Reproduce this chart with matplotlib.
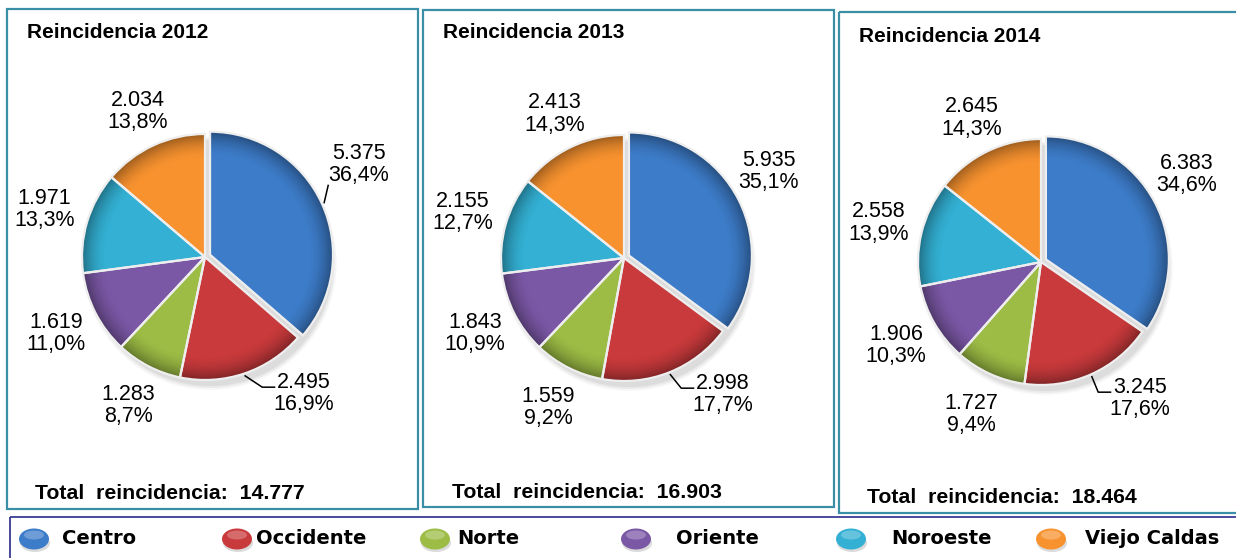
import numpy as np
import matplotlib
matplotlib.use("Agg")
import matplotlib.pyplot as plt
from matplotlib.patches import Rectangle, Ellipse, Wedge, Circle

# data
regions = ["Centro", "Occidente", "Norte", "Oriente", "Noroeste", "Viejo Caldas"]
years = [2012, 2013, 2014]
vals_2012 = [5375, 2495, 1283, 1619, 1971, 2034]
vals_2013 = [5935, 2998, 1559, 1843, 2155, 2413]
vals_2014 = [6383, 3245, 1727, 1906, 2558, 2645]
colors = ["#3d7cc9", "#c93a3c", "#9cbc45", "#7b58a6", "#33b0d3", "#f7922f"]

W, H = 1236, 558
R = 123  # pie radius in px
LIM = 1.6

# layout (pixels, y measured from the top)
panels = [(7, 9, 418, 509), (423, 10, 834, 507), (839, 12, 1240, 513)]
centers = [(205, 257), (624, 258), (1041, 262)]
title_xy = [(27, 38), (443, 38), (859, 42)]
total_xy = [(35, 499), (452, 498), (867, 503)]
centro_dist = [1.46, 1.37, 1.38]
leg_marker_x = [34, 237, 435, 636, 851, 1051]
leg_text_x = [62, 256, 457, 676, 891, 1085]
leg_y = 539

LABEL_FONT = "Liberation Sans"


def fmt_num(v):
    return f"{v:,}".replace(",", ".")


def fmt_pct(p):
    return f"{p:.1f}%".replace(".", ",")


def shade(ax, w):
    # darken the rim a bit so the slices look bevelled like the original
    cx, cy = w.center
    r = w.r
    n = 220
    xs = np.linspace(cx - r, cx + r, n)
    ys = np.linspace(cy - r, cy + r, n)
    X, Y = np.meshgrid(xs, ys)
    d = np.hypot(X - cx, Y - cy) / r
    img = np.zeros((n, n, 4))
    img[..., 3] = np.clip((d - 0.8) / 0.2, 0, 1) ** 1.8 * 0.36
    im = ax.imshow(img, extent=(cx - r, cx + r, cy - r, cy + r), origin="lower",
                   zorder=3, interpolation="bilinear")
    im.set_clip_path(w)


fig = plt.figure(figsize=(W / 100, H / 100), dpi=100)
bg = fig.add_axes([0, 0, 1, 1])
bg.set_xlim(0, W)
bg.set_ylim(H, 0)
bg.axis("off")

# panel frames
for (x0, y0, x1, y1) in panels:
    bg.add_patch(Rectangle((x0, y0), x1 - x0, y1 - y0, fill=False,
                           ec="#3a8ea5", lw=1.6))

# legend frame
bg.add_patch(Rectangle((10, 517), W, 50, fill=False, ec="#3b3b95", lw=1.3))

all_vals = [vals_2012, vals_2013, vals_2014]

for k, (year, vals) in enumerate(zip(years, all_vals)):
    cx, cy = centers[k]
    side = 2 * LIM * R
    ax = fig.add_axes([(cx - side / 2) / W, (H - cy - side / 2) / H, side / W, side / H])
    total = sum(vals)

    # soft shadow
    for s, a in [(1.03, 0.05), (1.015, 0.07), (1.0, 0.09)]:
        ax.add_patch(Circle((0.04, -0.05), s, color="#555555", alpha=a, lw=0, zorder=0))

    explode = [0.045, 0, 0, 0, 0, 0]
    wedges, _ = ax.pie(vals, colors=colors, startangle=90, counterclock=False,
                       explode=explode, wedgeprops=dict(lw=0, zorder=2))
    for w in wedges:
        shade(ax, w)
        ax.add_patch(Wedge(w.center, w.r, w.theta1, w.theta2, fill=False,
                           ec="#eeeeee", lw=1.6, zorder=4))

    # labels, outside end
    for i, (v, w) in enumerate(zip(vals, wedges)):
        mid = np.deg2rad((w.theta1 + w.theta2) / 2)
        if i == 0:
            ang, dist = np.deg2rad(31), centro_dist[k]
        elif i == 1:
            ang, dist = np.deg2rad(-54), 1.37
        elif i == 5:
            ang, dist = mid, 1.3
        else:
            ang, dist = mid, 1.36
        lx, ly = dist * np.cos(ang), dist * np.sin(ang)
        ax.text(lx, ly, fmt_num(v) + "\n" + fmt_pct(100 * v / total),
                ha="center", va="center", fontsize=15.5, family=LABEL_FONT,
                linespacing=1.08, zorder=6)
        ex, ey = w.center
        if i == 0 and dist > 1.4:
            ax.plot([ex + 1.02 * np.cos(mid), lx - 0.25],
                    [ey + 1.02 * np.sin(mid), ly - 0.17], color="black", lw=1.1, zorder=5)
        if i == 1:
            sx, sy = 1.02 * np.cos(mid), 1.02 * np.sin(mid)
            endx, endy = lx - 0.24, ly + 0.05
            ax.plot([sx, endx - 0.1, endx], [sy, endy, endy], color="black", lw=1.1, zorder=5)

    ax.set_xlim(-LIM, LIM)
    ax.set_ylim(-LIM, LIM)
    ax.set_aspect("equal")
    ax.axis("off")

    tx, ty = title_xy[k]
    bg.text(tx, ty, f"Reincidencia {year}", fontsize=15, fontweight="bold",
            family=LABEL_FONT, va="baseline", ha="left")
    sx, sy = total_xy[k]
    bg.text(sx, sy, f"Total  reincidencia:  {fmt_num(total)}", fontsize=15.3,
            fontweight="bold", family=LABEL_FONT, va="baseline", ha="left")

# legend with little spheres
for name, c, mx, txx in zip(regions, colors, leg_marker_x, leg_text_x):
    bg.add_patch(Ellipse((mx + 1, leg_y + 4), 30, 18, color="#999999", alpha=0.35, lw=0))
    bg.add_patch(Ellipse((mx, leg_y), 30, 21, color=c, lw=0))
    bg.add_patch(Ellipse((mx, leg_y - 4), 20, 9, color="white", alpha=0.25, lw=0))
    bg.text(txx, leg_y, name, fontsize=14, fontweight="bold", family="DejaVu Sans",
            va="center", ha="left")

fig.savefig("out.png", dpi=100)
